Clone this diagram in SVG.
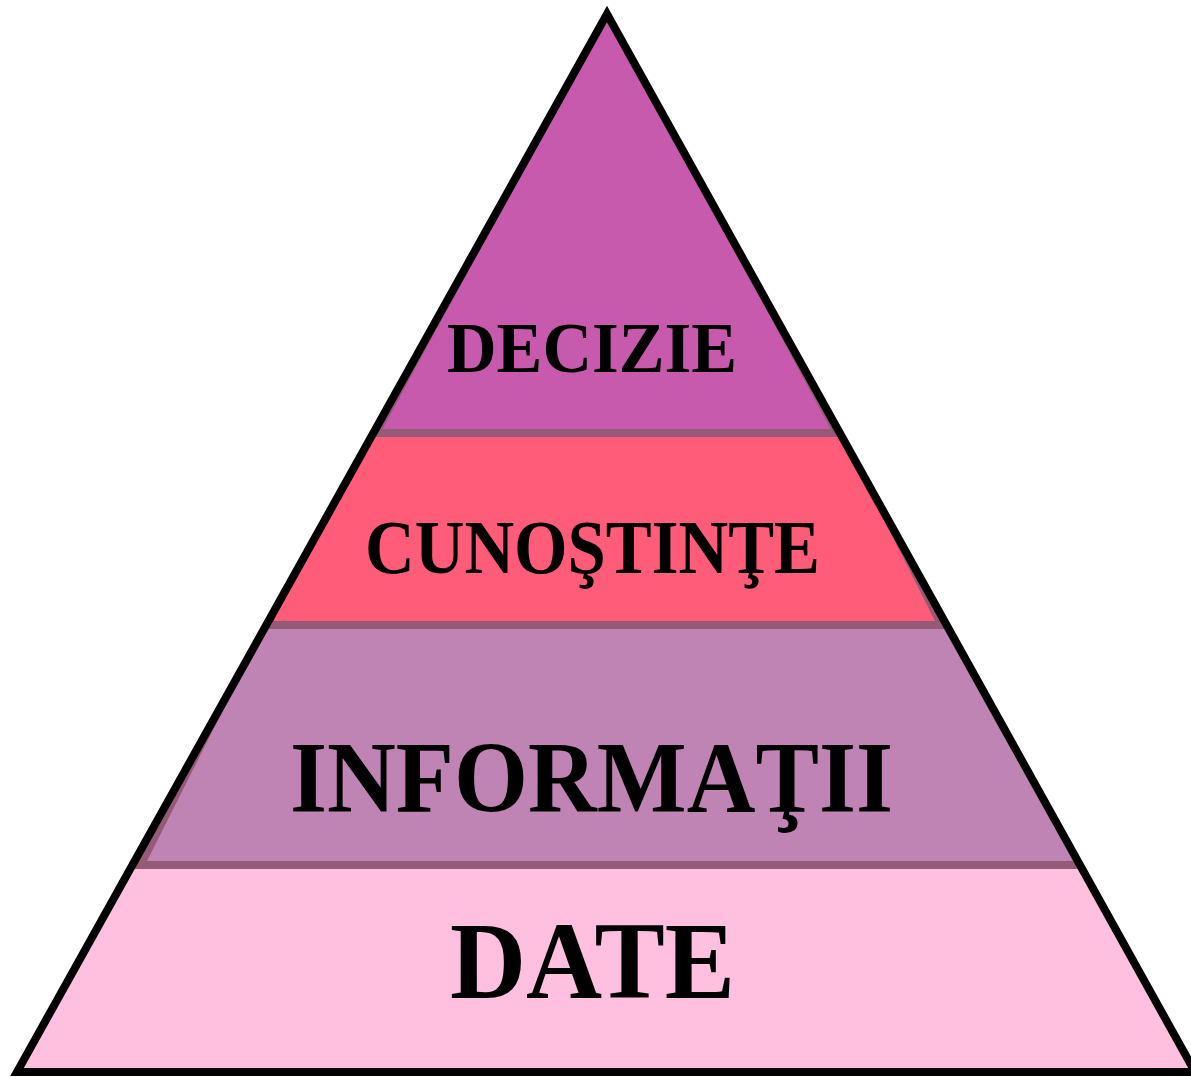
<svg xmlns="http://www.w3.org/2000/svg" width="1191" height="1077" viewBox="0 0 1191 1077">
  <style>
    .shade { fill: #955A75; }
    .lbl { font-family: "Liberation Serif", "Times New Roman", serif; font-weight: bold; fill: #000; text-anchor: middle; }
    .outline { fill: none; stroke: #000; stroke-width: 8; stroke-linejoin: miter; }
  </style>
  <rect width="1191" height="1077" fill="#FFFFFF"/>
  <g id="layer-decizie">
    <polygon class="shade" points="607,14 371.1,437 842.1,437"/>
    <polygon fill="#C85AAD" points="607,14 382.6,429 830.7,429"/>
    <text class="lbl" x="592" y="372" font-size="71" textLength="290" lengthAdjust="spacingAndGlyphs">DECIZIE</text>
  </g>
  <g id="layer-cunostinte">
    <polygon class="shade" points="371.1,437 842.1,437 948.8,629 264,629"/>
    <polygon fill="#FF5C7A" points="371.1,437 842.1,437 935,621 273.5,621"/>
    <text class="lbl" x="592.5" y="573" font-size="77" textLength="455" lengthAdjust="spacingAndGlyphs">CUNOŞTINŢE</text>
  </g>
  <g id="layer-informatii">
    <polygon class="shade" points="264,629 948.8,629 1082.2,869 130.2,869"/>
    <polygon fill="#C084B4" points="264,629 948.8,629 1074,861 147,861"/>
    <text class="lbl" x="591.5" y="812" font-size="101" textLength="603" lengthAdjust="spacingAndGlyphs">INFORMAŢII</text>
  </g>
  <g id="layer-date">
    <polygon fill="#FFC0E0" points="130.2,869 1082.2,869 1195,1072 17,1072"/>
    <text class="lbl" x="592.5" y="998" font-size="110" textLength="285" lengthAdjust="spacingAndGlyphs">DATE</text>
  </g>
  <g id="connectors">
    <polygon class="outline" points="607,14 1195,1072 17,1072"/>
  </g>
</svg>
